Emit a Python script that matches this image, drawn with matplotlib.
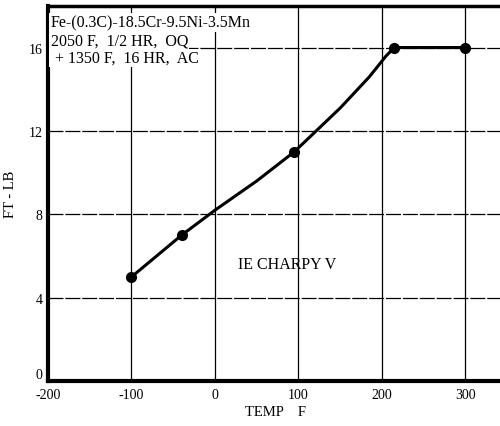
import matplotlib
matplotlib.use('Agg')
import matplotlib.pyplot as plt

# measured points
temp_f = [-100, -40, 95, 215, 300]
ft_lb = [5.0, 7.0, 11.0, 16.0, 16.0]

# smooth curve traced through the points
curve_x = [-100, -40, 0, 50, 95, 150, 185, 205, 215, 300]
curve_y = [5.0, 7.0, 8.2, 9.6, 11.0, 13.1, 14.6, 15.6, 16.0, 16.0]

x_ticks = [-200, -100, 0, 100, 200, 300]
y_ticks = [0, 4, 8, 12, 16]

note_lines = ['Fe-(0.3C)-18.5Cr-9.5Ni-3.5Mn', '2050 F,  1/2 HR,  OQ', ' + 1350 F,  16 HR,  AC']

plt.rcParams['font.family'] = ['Liberation Serif', 'DejaVu Serif']

fig = plt.figure(figsize=(5, 4.27), dpi=100)
ax = fig.add_axes([0.096, 0.105, 0.91, 0.879])

ax.plot(curve_x, curve_y, color='black', lw=2.2, zorder=3)
ax.plot(temp_f, ft_lb, 'o', color='black', ms=7, zorder=4)

ax.set_xlim(-200, 345)
ax.set_ylim(0, 18)
ax.set_xticks(x_ticks)
ax.set_xticklabels(['-200', '-100', '0', '100', '200', '300'])
ax.set_yticks(y_ticks)
ax.tick_params(length=0, labelsize=10, pad=4)
ax.tick_params(axis='x', pad=5)
ax.get_yticklabels()[0].set_va('bottom')

for x in x_ticks[1:]:
    ax.axvline(x, color='black', lw=0.9, zorder=1)
for y in y_ticks[1:]:
    ax.axhline(y, color='black', lw=0.9, ls=(0, (12, 1.5)), zorder=1)

ax.spines['left'].set_linewidth(3)
ax.spines['bottom'].set_linewidth(3)
ax.spines['top'].set_linewidth(2.5)
ax.spines['right'].set_visible(False)

for i, line in enumerate(note_lines):
    ax.text(-197, 17.2 - i * 0.85, line, fontsize=11.5, va='center', ha='left', zorder=5,
            bbox=dict(facecolor='white', edgecolor='none', pad=0.8))
ax.text(27, 5.6, 'IE CHARPY V', fontsize=11.5, va='center', ha='left', zorder=5)

ax.set_xlabel('TEMP    F', fontsize=10.5, labelpad=3)
ax.set_ylabel('FT - LB', fontsize=10.5, labelpad=8)

plt.savefig('out.png', dpi=100)
plt.close(fig)
